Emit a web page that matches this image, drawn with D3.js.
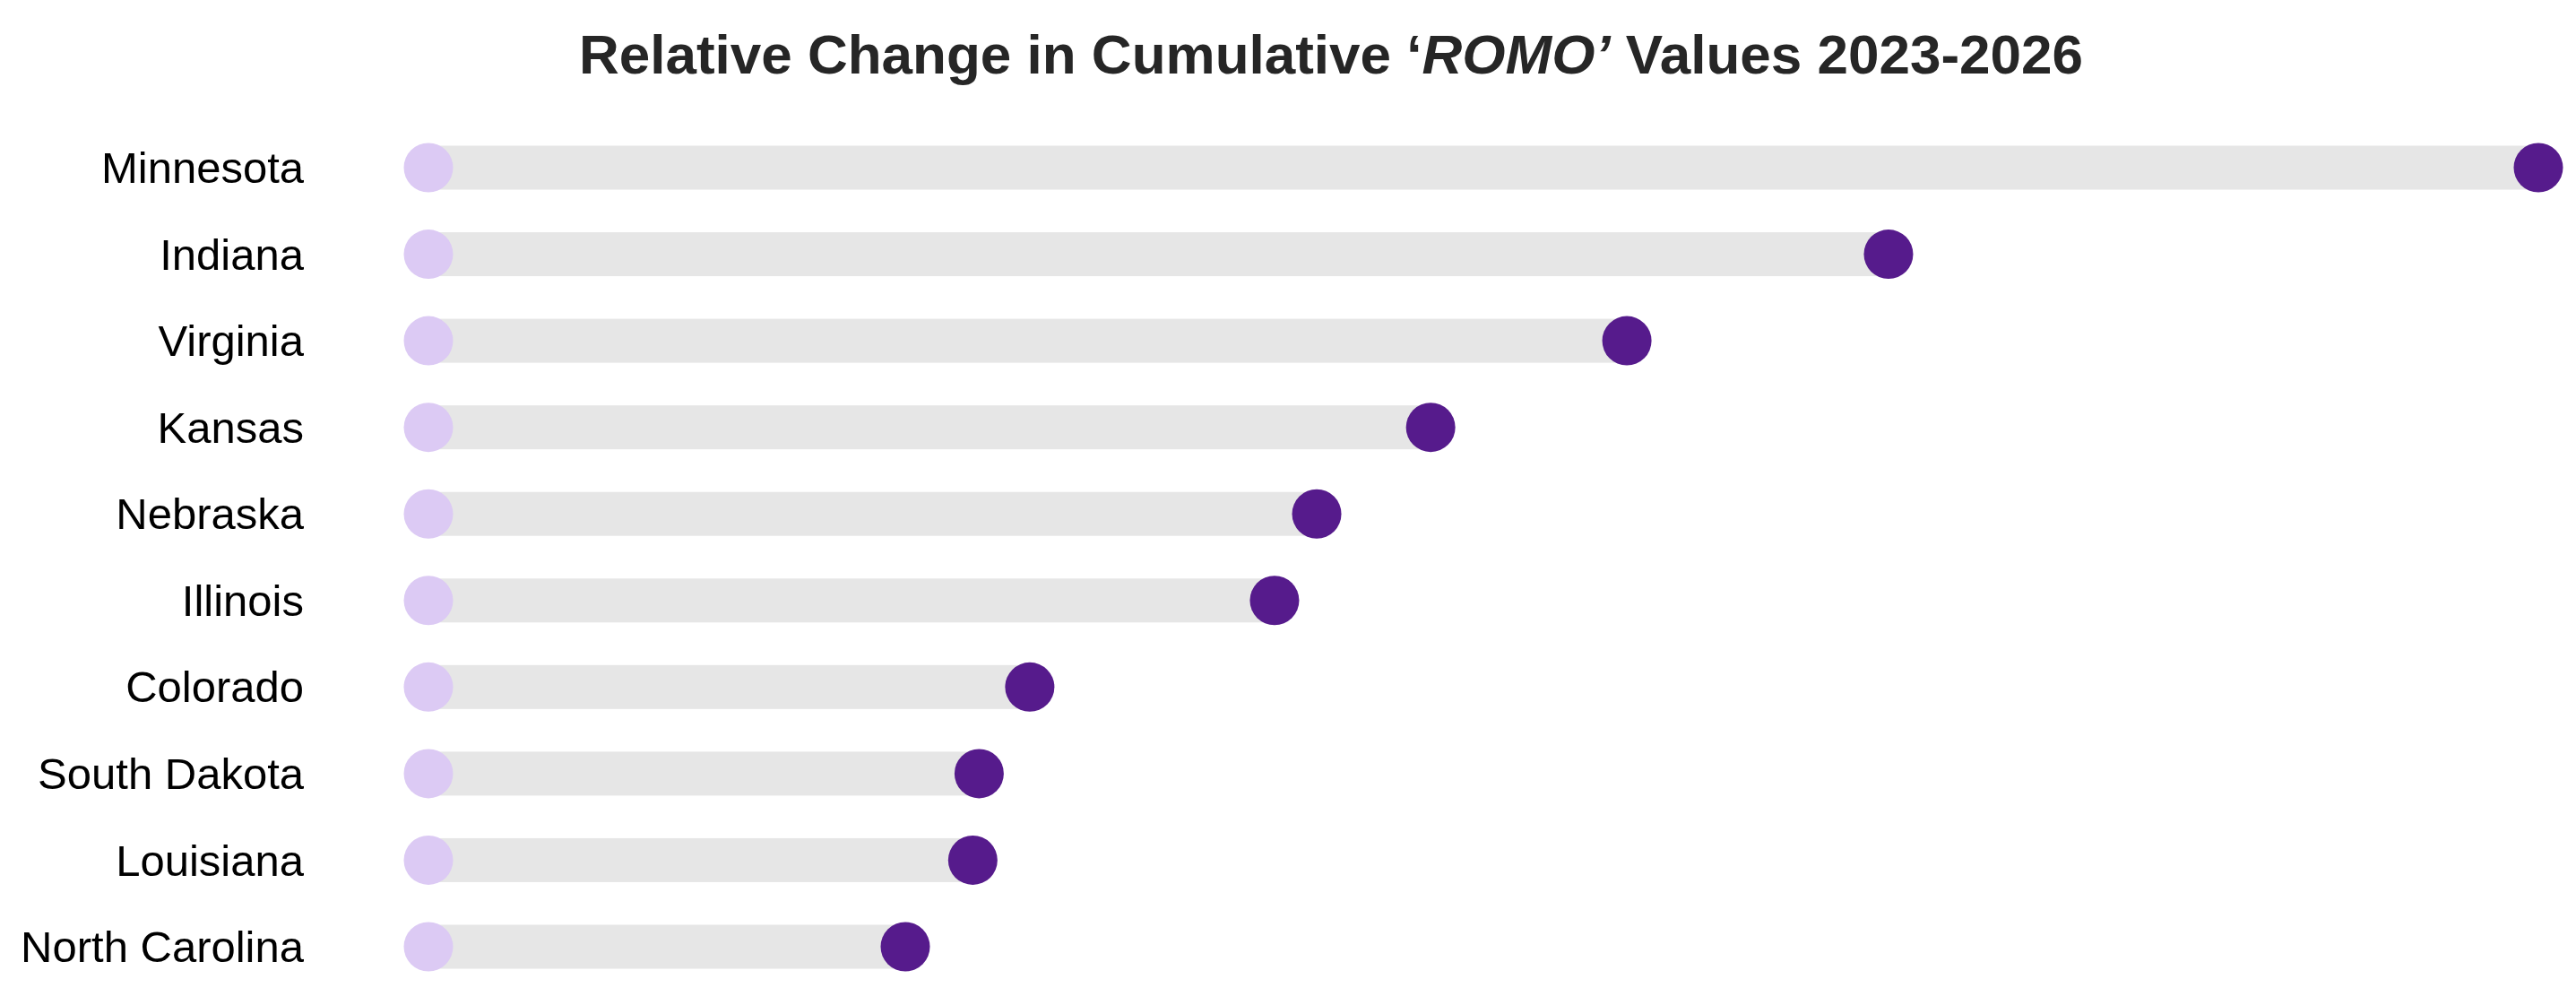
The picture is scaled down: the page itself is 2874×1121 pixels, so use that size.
<!DOCTYPE html>
<html>
<head>
<meta charset="utf-8">
<script src="https://cdn.jsdelivr.net/npm/d3@7"></script>
<style>
  html, body { margin: 0; padding: 0; background: #fff; }
  svg { display: block; }
</style>
</head>
<body>
<svg id="chart"></svg>
<script>
// data (relative change, start indexed to 0, Minnesota = 1)
const states = ["Minnesota", "Indiana", "Virginia", "Kansas", "Nebraska",
                "Illinois", "Colorado", "South Dakota", "Louisiana", "North Carolina"];
const startValues = [0, 0, 0, 0, 0, 0, 0, 0, 0, 0];
const endValues = [1.0, 0.692, 0.568, 0.475, 0.421, 0.401, 0.285, 0.261, 0.258, 0.226];

let svgWidth = 2874;
let svgHeight = 1121;

const svg = d3.select("#chart")
    .attr("width", svgWidth)
    .attr("height", svgHeight);

let rows = states.map((s, i) => ({"state": s, "start": startValues[i], "end": endValues[i]}));

let xMap = d3.scaleLinear()
    .domain([0, 1])
    .range([478, 2832]);
let yMap = d3.scalePoint()
    .domain(states)
    .range([187, 1056]);

const r = 27.5;
const barH = 49;

// title
const title = svg.append("text")
    .attr("x", 1485)
    .attr("y", 82)
    .attr("text-anchor", "middle")
    .style("font-family", "'Liberation Sans', Arial, sans-serif")
    .style("font-weight", "bold")
    .style("font-size", "62px")
    .attr("fill", "#262626");
title.append("tspan").text("Relative Change in Cumulative \u2018");
title.append("tspan").style("font-style", "italic").text("ROMO\u2019");
title.append("tspan").text(" Values 2023-2026");

// bars
svg.append("g").selectAll("rect").data(rows).enter().append("rect")
    .attr("x", d => xMap(d.start))
    .attr("y", d => yMap(d.state) - barH / 2)
    .attr("width", d => xMap(d.end) - xMap(d.start))
    .attr("height", barH)
    .attr("fill", "#e6e6e6");

// start dots
svg.append("g").selectAll("circle").data(rows).enter().append("circle")
    .attr("cx", d => xMap(d.start))
    .attr("cy", d => yMap(d.state))
    .attr("r", r)
    .attr("fill", "#dccaf4");

// end dots
svg.append("g").selectAll("circle").data(rows).enter().append("circle")
    .attr("cx", d => xMap(d.end))
    .attr("cy", d => yMap(d.state))
    .attr("r", r)
    .attr("fill", "#561b8c");

// labels
svg.append("g").selectAll("text").data(rows).enter().append("text")
    .attr("x", 339)
    .attr("y", d => yMap(d.state))
    .attr("dy", "0.35em")
    .attr("text-anchor", "end")
    .style("font-family", "'Liberation Sans', Arial, sans-serif")
    .style("font-size", "49px")
    .attr("fill", "#000")
    .text(d => d.state);
</script>
</body>
</html>
